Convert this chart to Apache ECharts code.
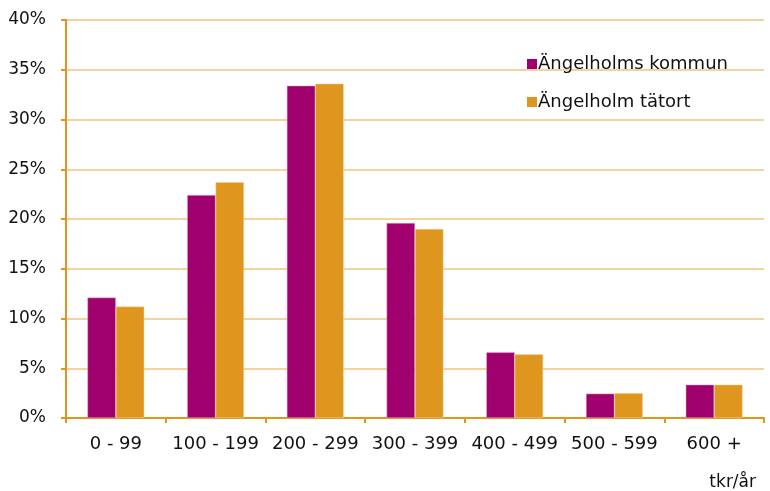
<!DOCTYPE html>
<html><head><meta charset="utf-8">
<script src="https://cdn.jsdelivr.net/npm/echarts@6/dist/echarts.min.js"></script>
<style>html,body{margin:0;padding:0;background:#fff}#c{width:770px;height:491px}</style>
</head><body><div id="c"></div>
<script>
const categories = ["0 - 99", "100 - 199", "200 - 299", "300 - 399", "400 - 499", "500 - 599", "600 +"];
const kommun = [12.1, 22.4, 33.4, 19.6, 6.6, 2.45, 3.35];
const tatort = [11.2, 23.7, 33.6, 19.0, 6.4, 2.5, 3.35];
const seriesNames = ["Ängelholms kommun", "Ängelholm tätort"];
const yTicks = [0, 5, 10, 15, 20, 25, 30, 35, 40];
const unitLabel = "tkr/år";

const chart = echarts.init(document.getElementById('c'));
const font = "'DejaVu Sans', sans-serif";
chart.setOption({
  animation: false,
  textStyle: {fontFamily: font},
  grid: {left: 66, right: 6, top: 20, bottom: 73},
  legend: {
    orient: 'vertical', left: 522, top: 50, itemGap: 20,
    itemWidth: 10, itemHeight: 10, icon: 'rect',
    itemStyle: {borderWidth: 0},
    textStyle: {fontSize: 18, color: '#111', fontFamily: font, padding: [0,0,0,-4]},
    data: seriesNames
  },
  graphic: [{type: 'text', right: 14, top: 474, style: {text: unitLabel, fontSize: 17, fill: '#111', fontFamily: font}}],
  xAxis: {
    type: 'category', data: categories,
    axisLine: {lineStyle: {color: '#E0961E', width: 2}},
    axisTick: {show: true, length: 5, lineStyle: {color: '#E0961E', width: 2}},
    axisLabel: {fontSize: 18, color: '#111', margin: 17, interval: 0, fontFamily: font}
  },
  yAxis: {
    type: 'value', min: yTicks[0], max: yTicks[yTicks.length - 1], interval: 5,
    axisLine: {show: true, lineStyle: {color: '#E0961E', width: 2}},
    axisTick: {show: true, length: 5, lineStyle: {color: '#E0961E', width: 2}},
    splitLine: {lineStyle: {color: '#F2D49E', width: 2}},
    axisLabel: {fontSize: 17, color: '#111', margin: 20, formatter: v => v + '%', fontFamily: font}
  },
  series: [
    {name: seriesNames[0], type: 'bar', data: kommun, barGap: '0%', barCategoryGap: '43%',
     itemStyle: {color: '#A0006E', borderColor: '#E8B0D0', borderWidth: 0.5}},
    {name: seriesNames[1], type: 'bar', data: tatort,
     itemStyle: {color: '#DF961E', borderColor: '#F5D9A8', borderWidth: 0.5}}
  ]
});
</script></body></html>
